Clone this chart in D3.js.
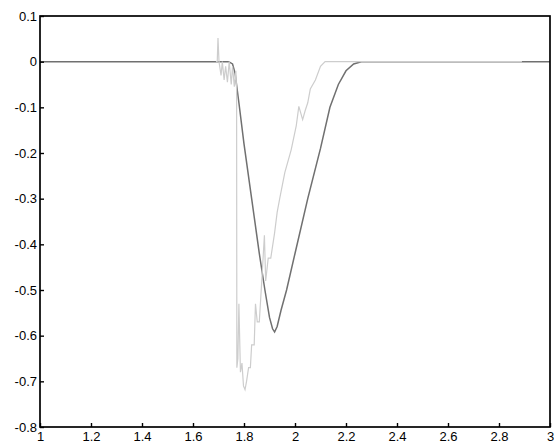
<!DOCTYPE html>
<html lang="en">
<head>
    <meta charset="UTF-8">
    <title>Signal response</title>
    <script src="https://cdnjs.cloudflare.com/ajax/libs/d3/7.8.5/d3.min.js"></script>
    <style>
        body {
            margin: 0;
            background: #fff;
            font-family: "Liberation Sans", Arial, sans-serif;
        }
        .tick text { font-size: 13px; fill: #000; }
    </style>
</head>
<body>
    <script>
        // dark (smooth) curve
        const darkX = [1, 1.74, 1.755, 1.765, 1.78, 1.80, 1.83, 1.86, 1.882, 1.90, 1.912, 1.92, 1.93, 1.945, 1.967, 2.00, 2.05, 2.10, 2.137, 2.17, 2.20, 2.23, 2.26, 3];
        const darkY = [0, 0, -0.005, -0.025, -0.09, -0.18, -0.30, -0.42, -0.50, -0.56, -0.585, -0.592, -0.58, -0.545, -0.50, -0.42, -0.30, -0.19, -0.10, -0.05, -0.02, -0.005, 0, 0];

        // light (noisy) curve
        const lightX = [1.69, 1.695, 1.698, 1.702, 1.71, 1.715, 1.722, 1.728, 1.735, 1.742, 1.75, 1.755, 1.762, 1.768, 1.771,
            1.772, 1.776, 1.78, 1.786, 1.792, 1.798, 1.804, 1.81, 1.818, 1.825, 1.83, 1.84, 1.845, 1.852, 1.86, 1.87, 1.88,
            1.885, 1.895, 1.905, 1.92, 1.93, 1.94, 1.96, 1.985, 2.005, 2.015, 2.03, 2.04, 2.05, 2.06, 2.08, 2.10, 2.118, 2.89];
        const lightY = [0, 0, 0.052, 0, -0.03, 0, -0.04, -0.01, -0.045, 0, -0.05, -0.01, -0.055, -0.02, -0.06,
            -0.67, -0.65, -0.53, -0.68, -0.66, -0.71, -0.718, -0.70, -0.67, -0.67, -0.62, -0.62, -0.53, -0.57, -0.57, -0.477, -0.38,
            -0.48, -0.43, -0.43, -0.375, -0.33, -0.30, -0.243, -0.193, -0.14, -0.098, -0.127, -0.107, -0.09, -0.06, -0.04, -0.01, 0, 0];

        const xTicks = [1, 1.2, 1.4, 1.6, 1.8, 2, 2.2, 2.4, 2.6, 2.8, 3];
        const yTicks = [0.1, 0, -0.1, -0.2, -0.3, -0.4, -0.5, -0.6, -0.7, -0.8];

        const width = 554, height = 446;
        const margin = { top: 16, right: 4, bottom: 19, left: 40 };

        const svg = d3.select('body').append('svg')
            .attr('width', width)
            .attr('height', height);

        const x = d3.scaleLinear().domain([1, 3]).range([margin.left, width - margin.right]);
        const y = d3.scaleLinear().domain([-0.8, 0.1]).range([height - margin.bottom, margin.top]);

        const line = d3.line().x(d => x(d[0])).y(d => y(d[1]));

        svg.append('path')
            .datum(darkX.map((v, i) => [v, darkY[i]]))
            .attr('fill', 'none')
            .attr('stroke', '#707070')
            .attr('stroke-width', 1.5)
            .attr('d', line);

        svg.append('path')
            .datum(lightX.map((v, i) => [v, lightY[i]]))
            .attr('fill', 'none')
            .attr('stroke', '#cdcdcd')
            .attr('stroke-width', 1.2)
            .attr('d', line);

        // box
        svg.append('rect')
            .attr('x', x(1)).attr('y', y(0.1))
            .attr('width', x(3) - x(1)).attr('height', y(-0.8) - y(0.1))
            .attr('fill', 'none').attr('stroke', '#000').attr('stroke-width', 1.7);

        // plain hyphen minus, like the original labels
        const fmt = d => String(d);

        // inward ticks, MATLAB style
        svg.append('g')
            .attr('transform', `translate(0,${y(-0.8)})`)
            .call(d3.axisBottom(x).tickValues(xTicks).tickSizeInner(-4).tickSizeOuter(0).tickPadding(5).tickFormat(fmt))
            .call(g => g.select('.domain').remove())
            .call(g => g.selectAll('.tick line').attr('stroke-width', 1.4));

        svg.append('g')
            .attr('transform', `translate(${x(1)},0)`)
            .call(d3.axisLeft(y).tickValues(yTicks).tickSizeInner(-4).tickSizeOuter(0).tickPadding(3).tickFormat(fmt))
            .call(g => g.select('.domain').remove())
            .call(g => g.selectAll('.tick line').attr('stroke-width', 1.4));

        svg.selectAll('.tick text').attr('font-family', '"Liberation Sans", Arial, sans-serif');
    </script>
</body>
</html>
